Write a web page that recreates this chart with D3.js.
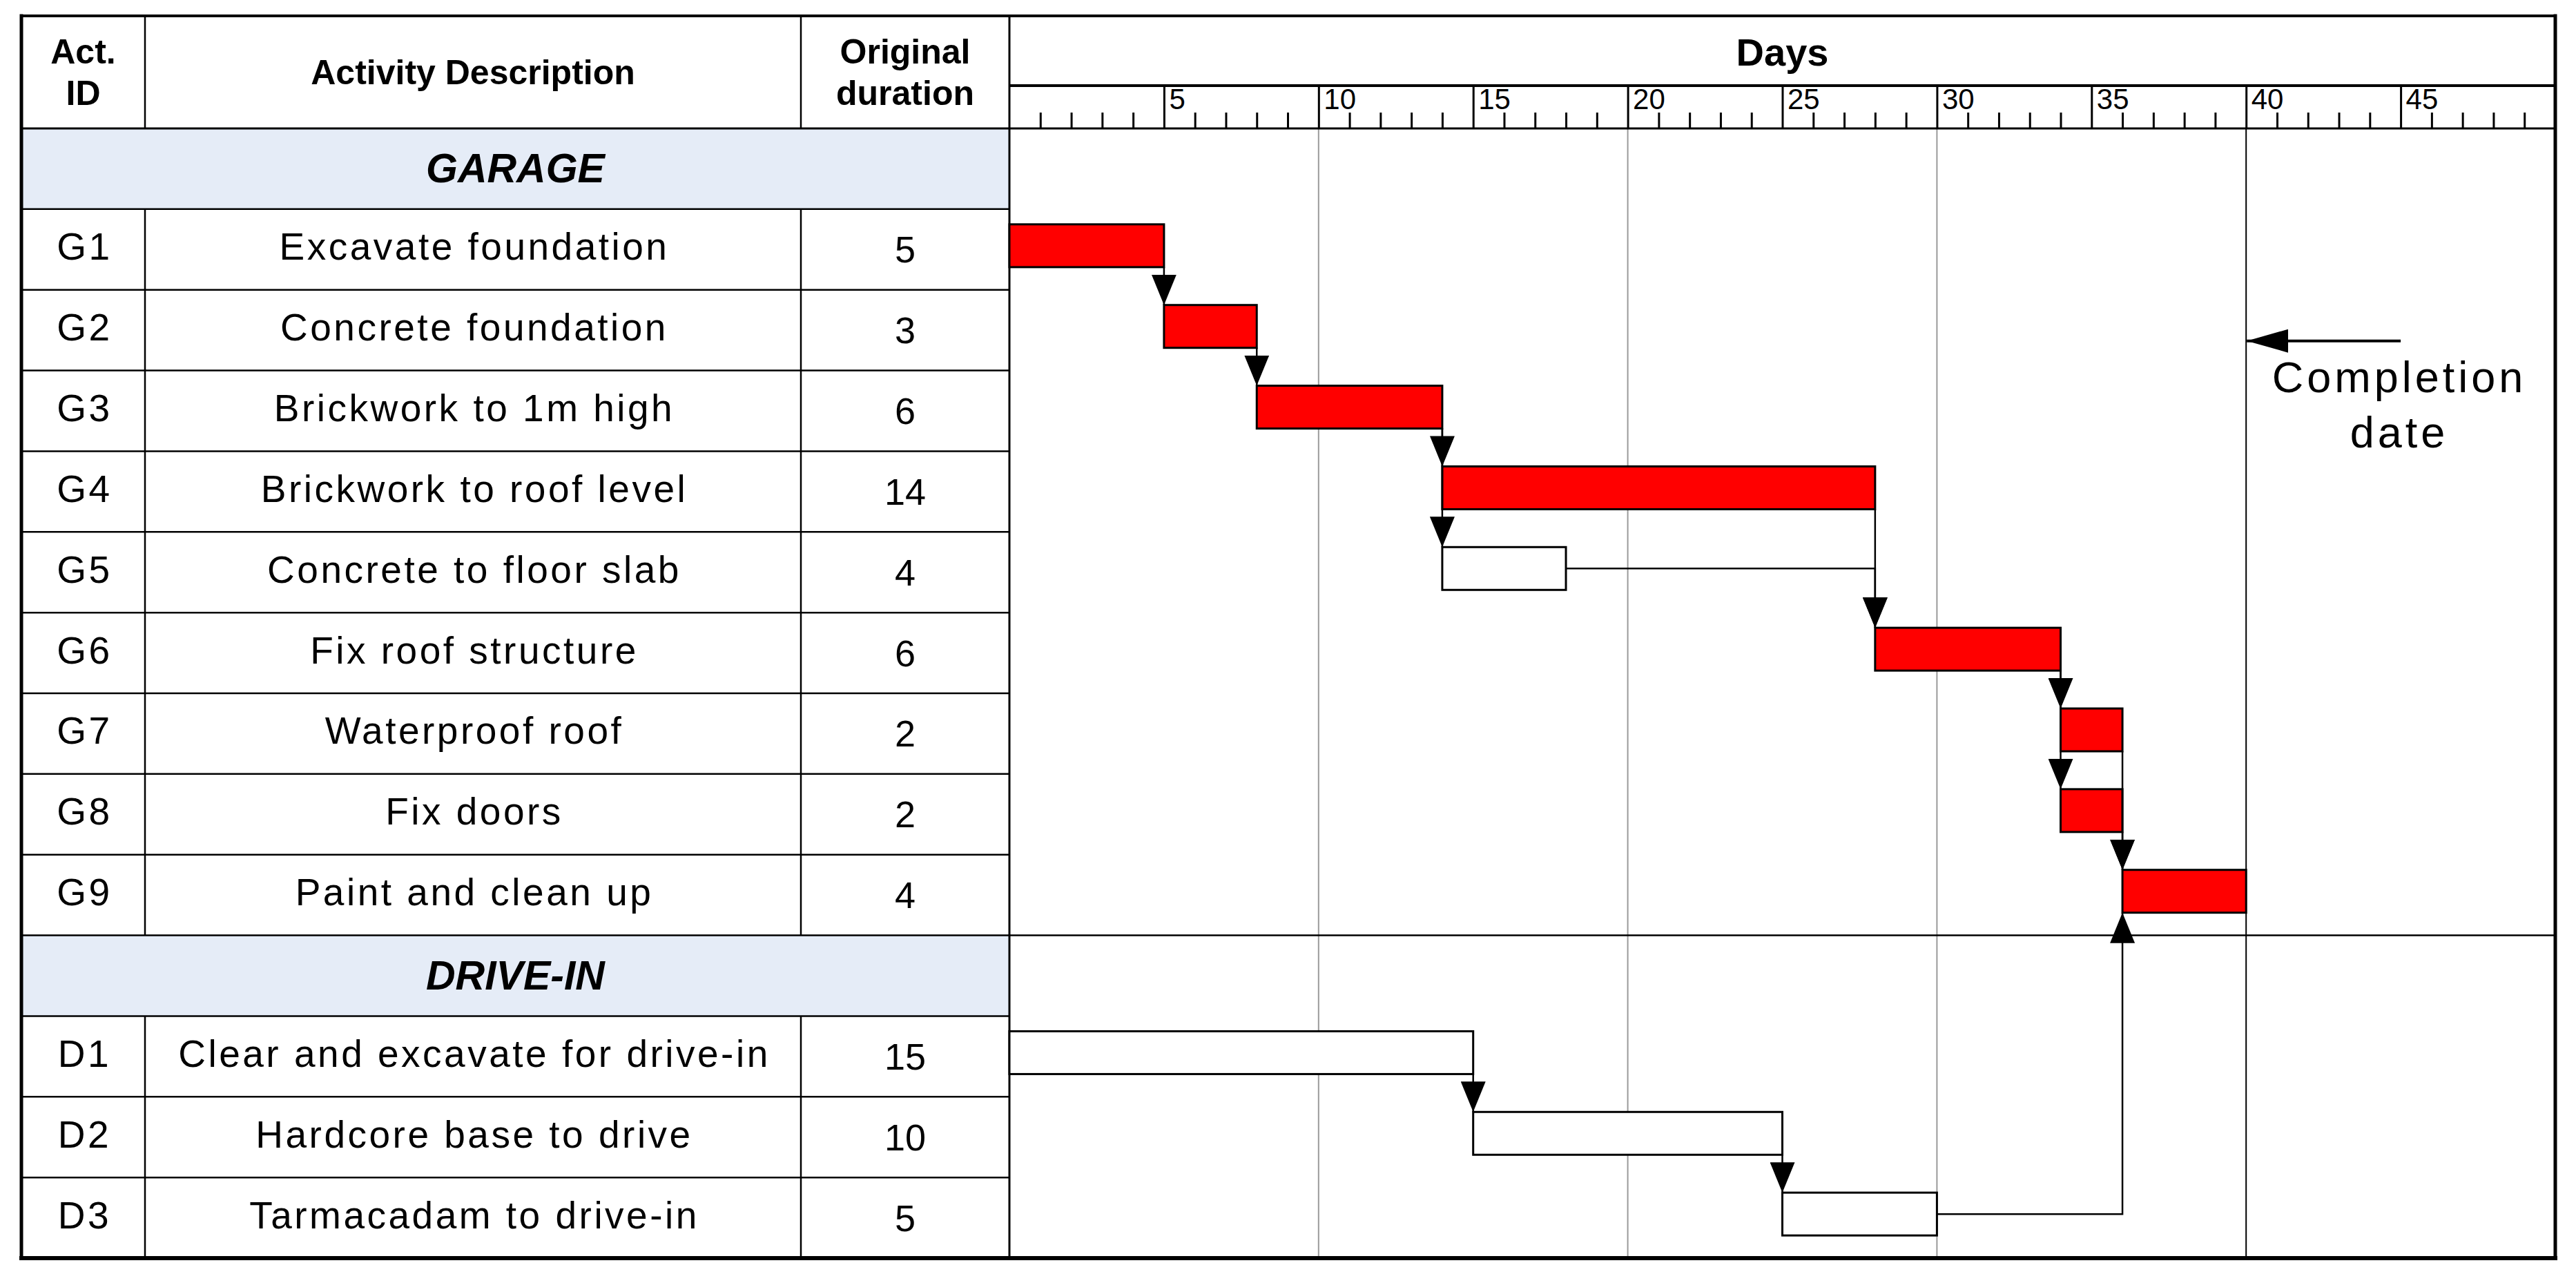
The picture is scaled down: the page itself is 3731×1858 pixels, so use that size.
<!DOCTYPE html>
<html>
<head>
<meta charset="utf-8">
<script src="https://cdn.jsdelivr.net/npm/d3@7"></script>
<style>
  html, body { margin: 0; padding: 0; background: #fff; }
  svg { display: block; }
  text { font-family: "Liberation Sans", Arial, sans-serif; fill: #000; }
</style>
</head>
<body>
<div id="chart"></div>
<script>
// groups and activities
const groups = ["GARAGE", "DRIVE-IN"];
const actIds = ["G1", "G2", "G3", "G4", "G5", "G6", "G7", "G8", "G9", "D1", "D2", "D3"];
const actGroups = ["GARAGE", "GARAGE", "GARAGE", "GARAGE", "GARAGE", "GARAGE", "GARAGE", "GARAGE", "GARAGE",
                   "DRIVE-IN", "DRIVE-IN", "DRIVE-IN"];
const actNames = [
    "Excavate foundation", "Concrete foundation", "Brickwork to 1m high", "Brickwork to roof level",
    "Concrete to floor slab", "Fix roof structure", "Waterproof roof", "Fix doors", "Paint and clean up",
    "Clear and excavate for drive-in", "Hardcore base to drive", "Tarmacadam to drive-in"
];
const durations = [5, 3, 6, 14, 4, 6, 2, 2, 4, 15, 10, 5];
const starts = [0, 5, 8, 14, 14, 28, 34, 34, 36, 0, 15, 25];
const critical = [true, true, true, true, false, true, true, true, true, false, false, false];

// dependencies (predecessor -> successor)
const links = [
    ["G1", "G2"], ["G2", "G3"], ["G3", "G4"], ["G3", "G5"], ["G4", "G6"], ["G5", "G6"],
    ["G6", "G7"], ["G6", "G8"], ["G7", "G9"], ["G8", "G9"],
    ["D1", "D2"], ["D2", "D3"], ["D3", "G9"]
];

// time axis
const dayTicks = [5, 10, 15, 20, 25, 30, 35, 40, 45];
const gridDays = [10, 20, 30];
const maxDay = 50;
const completionDay = 40;
const completionLabel = ["Completion", "date"];

document.addEventListener("DOMContentLoaded", function () {
    const width = 3731, height = 1858;

    // layout
    const left = 31, colId = 210, colDesc = 1160, colDur = 1462, right = 3701;
    const top = 23, daysLine = 124, headTop = 186, bottom = 1822;
    const barPad = 22, barH = 62;

    const svg = d3.select("#chart").append("svg")
        .attr("width", width)
        .attr("height", height);

    const defs = svg.append("defs");
    defs.append("marker")
        .attr("id", "arrow")
        .attr("markerUnits", "userSpaceOnUse")
        .attr("viewBox", "0 -18 44 36")
        .attr("refX", 44).attr("refY", 0)
        .attr("markerWidth", 44).attr("markerHeight", 36)
        .attr("orient", "auto")
        .append("path").attr("d", "M0,-18L44,0L0,18Z").attr("fill", "#000");
    defs.append("marker")
        .attr("id", "arrowBig")
        .attr("markerUnits", "userSpaceOnUse")
        .attr("viewBox", "0 -17 60 34")
        .attr("refX", 60).attr("refY", 0)
        .attr("markerWidth", 60).attr("markerHeight", 34)
        .attr("orient", "auto")
        .append("path").attr("d", "M0,-17L60,0L0,17Z").attr("fill", "#000");

    // build row list: group header followed by its activities
    const acts = actIds.map((id, i) => ({
        id: id, group: actGroups[i], name: actNames[i],
        dur: durations[i], start: starts[i], critical: critical[i]
    }));
    const rows = [];
    groups.forEach(g => {
        rows.push({ type: "group", key: g, name: g });
        acts.filter(a => a.group === g).forEach(a => rows.push({ type: "act", key: a.id, act: a }));
    });
    const byId = {};
    acts.forEach(a => byId[a.id] = a);

    const x = d3.scaleLinear().domain([0, maxDay]).range([colDur, right]);
    const y = d3.scaleBand().domain(rows.map(r => r.key)).range([headTop, bottom]).padding(0);
    const bw = y.bandwidth();

    // group row fill
    svg.selectAll("rect.group")
        .data(rows.filter(r => r.type === "group"))
        .enter().append("rect")
        .attr("class", "group")
        .attr("x", left).attr("y", d => y(d.key))
        .attr("width", colDur - left).attr("height", bw)
        .attr("fill", "#e5ecf7");

    // gridlines
    svg.selectAll("line.grid")
        .data(gridDays)
        .enter().append("line")
        .attr("x1", d => x(d)).attr("x2", d => x(d))
        .attr("y1", headTop).attr("y2", bottom)
        .attr("stroke", "#9a9a9a").attr("stroke-width", 2);
    svg.append("line")
        .attr("x1", x(completionDay)).attr("x2", x(completionDay))
        .attr("y1", headTop).attr("y2", bottom)
        .attr("stroke", "#000").attr("stroke-width", 2);

    // table row lines
    const table = svg.append("g").attr("stroke", "#000").attr("stroke-width", 2.5);
    rows.forEach((r, i) => {
        if (i > 0) {
            table.append("line")
                .attr("x1", left).attr("x2", colDur)
                .attr("y1", y(r.key)).attr("y2", y(r.key));
        }
        if (r.type === "act") {
            [colId, colDesc].forEach(cx => {
                table.append("line")
                    .attr("x1", cx).attr("x2", cx)
                    .attr("y1", y(r.key)).attr("y2", y(r.key) + bw);
            });
        }
    });
    // separator between groups through the chart area
    groups.slice(1).forEach(g => {
        table.append("line")
            .attr("x1", colDur).attr("x2", right)
            .attr("y1", y(g)).attr("y2", y(g));
    });
    [colId, colDesc].forEach(cx => {
        table.append("line").attr("x1", cx).attr("x2", cx).attr("y1", top).attr("y2", headTop);
    });
    table.append("line").attr("x1", colDur).attr("x2", colDur).attr("y1", top).attr("y2", bottom)
        .attr("stroke-width", 3);

    // header lines
    svg.append("line").attr("x1", colDur).attr("x2", right).attr("y1", daysLine).attr("y2", daysLine)
        .attr("stroke", "#000").attr("stroke-width", 4);
    svg.append("line").attr("x1", left).attr("x2", right).attr("y1", headTop).attr("y2", headTop)
        .attr("stroke", "#000").attr("stroke-width", 3);

    // day axis
    const minorTicks = x.ticks(maxDay).filter(d => d > 0 && d < maxDay && dayTicks.indexOf(d) < 0);
    const minorAxis = svg.append("g")
        .attr("transform", `translate(0,${headTop})`)
        .call(d3.axisTop(x).tickValues(minorTicks).tickSize(23).tickFormat(""));
    const majorAxis = svg.append("g")
        .attr("transform", `translate(0,${headTop})`)
        .call(d3.axisTop(x).tickValues(dayTicks).tickSize(headTop - daysLine).tickFormat(d3.format("d")));
    [minorAxis, majorAxis].forEach(a => {
        a.select(".domain").remove();
        a.selectAll(".tick line").attr("stroke", "#000").attr("stroke-width", 3);
    });
    majorAxis.selectAll(".tick text")
        .attr("x", 7).attr("y", -28).attr("dy", 0)
        .attr("text-anchor", "start")
        .style("font-family", "'Liberation Sans', Arial, sans-serif")
        .style("font-size", "42px")
        .attr("fill", "#000");

    // header texts
    const hdr = svg.append("g").style("font-weight", "bold").style("font-size", "50px")
        .attr("text-anchor", "middle");
    hdr.append("text").attr("x", (left + colId) / 2).attr("y", 92).text("Act.");
    hdr.append("text").attr("x", (left + colId) / 2).attr("y", 152).text("ID");
    hdr.append("text").attr("x", (colId + colDesc) / 2).attr("y", 122).text("Activity Description");
    hdr.append("text").attr("x", (colDesc + colDur) / 2).attr("y", 92).text("Original");
    hdr.append("text").attr("x", (colDesc + colDur) / 2).attr("y", 152).text("duration");
    hdr.append("text").attr("x", (colDur + right) / 2).attr("y", 95).style("font-size", "56px").text("Days");

    // group titles
    svg.selectAll("text.gtitle")
        .data(rows.filter(r => r.type === "group"))
        .enter().append("text")
        .attr("x", (left + colDur) / 2)
        .attr("y", d => y(d.key) + bw / 2 + 20)
        .attr("text-anchor", "middle")
        .style("font-size", "59px").style("font-weight", "bold").style("font-style", "italic")
        .text(d => d.name);

    // activity texts
    const actRows = rows.filter(r => r.type === "act");
    const cellText = svg.append("g").style("font-size", "55px").attr("text-anchor", "middle");
    actRows.forEach(r => {
        const base = y(r.key) + bw / 2 + 15;
        cellText.append("text").attr("x", (left + colId) / 2 + 2).attr("y", base)
            .style("letter-spacing", "3.5px").text(r.act.id);
        cellText.append("text").attr("x", (colId + colDesc) / 2 + 2).attr("y", base)
            .style("letter-spacing", "3.5px").text(r.act.name);
        cellText.append("text").attr("x", (colDesc + colDur) / 2).attr("y", base + 4)
            .style("font-size", "54px").text(r.act.dur);
    });

    // bars
    svg.selectAll("rect.bar")
        .data(acts)
        .enter().append("rect")
        .attr("class", "bar")
        .attr("x", d => x(d.start))
        .attr("y", d => y(d.id) + barPad)
        .attr("width", d => x(d.start + d.dur) - x(d.start))
        .attr("height", barH)
        .attr("fill", d => d.critical ? "#ff0000" : "#fff")
        .attr("stroke", "#000").attr("stroke-width", 3);

    // dependency links
    function linkPath(pair) {
        const p = byId[pair[0]], s = byId[pair[1]];
        const xe = x(p.start + p.dur), xs = x(s.start);
        const down = y(s.id) > y(p.id);
        const pTop = y(p.id) + barPad, sTop = y(s.id) + barPad;
        const succEdge = down ? sTop : sTop + barH;
        if (Math.abs(xe - xs) < 0.5) {
            const predEdge = down ? pTop + barH : pTop;
            return `M${xe},${predEdge}V${succEdge}`;
        }
        const mid = pTop + barH / 2;
        return `M${xe},${mid}H${xs}V${succEdge}`;
    }
    svg.selectAll("path.link")
        .data(links)
        .enter().append("path")
        .attr("class", "link")
        .attr("d", linkPath)
        .attr("fill", "none")
        .attr("stroke", "#000").attr("stroke-width", 2.5)
        .attr("marker-end", "url(#arrow)");

    // completion date annotation
    const cy = y("G2") + 74;
    svg.append("line")
        .attr("x1", x(45)).attr("x2", x(completionDay) + 1)
        .attr("y1", cy).attr("y2", cy)
        .attr("stroke", "#000").attr("stroke-width", 4)
        .attr("marker-end", "url(#arrowBig)");
    svg.selectAll("text.compl")
        .data(completionLabel)
        .enter().append("text")
        .attr("x", x(45) - 2)
        .attr("y", (d, i) => cy + 74 + i * 80)
        .attr("text-anchor", "middle")
        .style("font-size", "63px").style("letter-spacing", "5px")
        .text(d => d);

    // outer frame
    const frame = svg.append("g").attr("stroke", "#000").attr("stroke-linecap", "square");
    frame.append("line").attr("x1", left).attr("x2", right).attr("y1", top).attr("y2", top).attr("stroke-width", 4);
    frame.append("line").attr("x1", left).attr("x2", right).attr("y1", bottom).attr("y2", bottom).attr("stroke-width", 6);
    frame.append("line").attr("x1", left).attr("x2", left).attr("y1", top).attr("y2", bottom).attr("stroke-width", 5);
    frame.append("line").attr("x1", right).attr("x2", right).attr("y1", top).attr("y2", bottom).attr("stroke-width", 5);
});
</script>
</body>
</html>
